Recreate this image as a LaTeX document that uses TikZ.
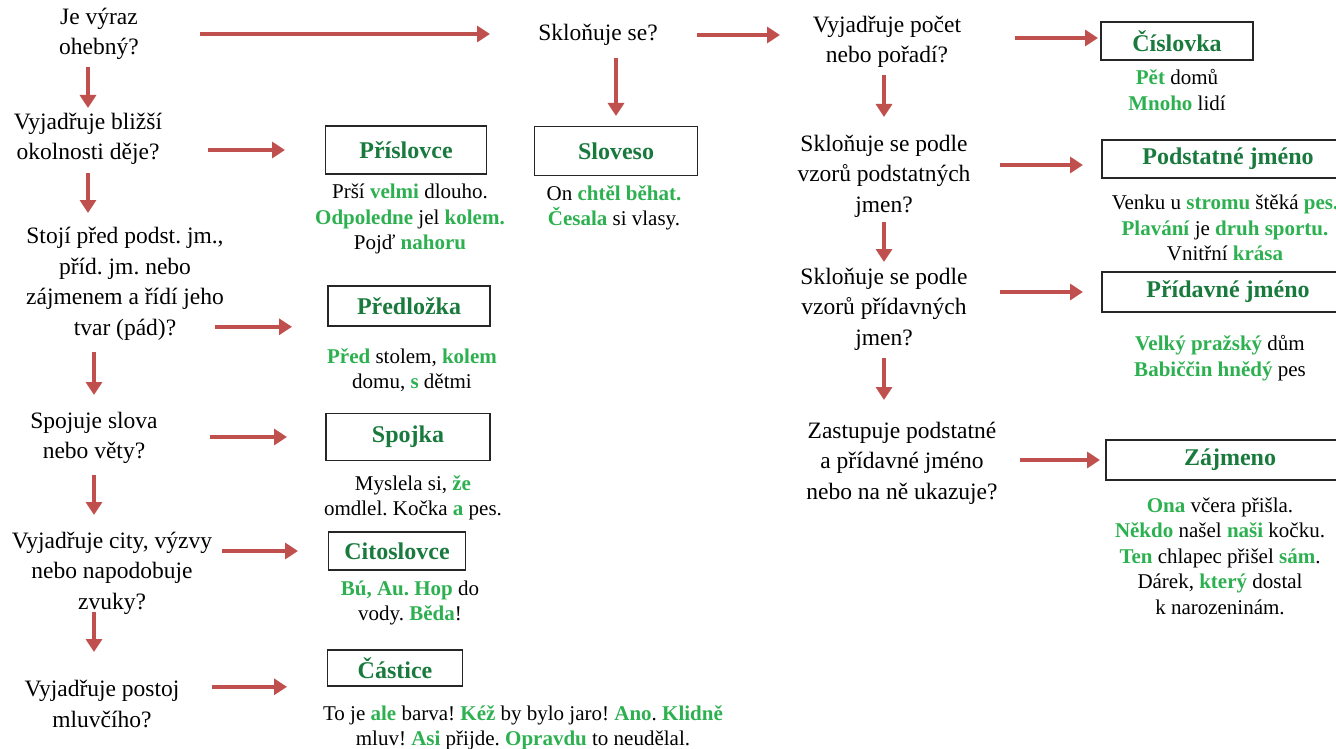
\documentclass[tikz,border=0pt]{standalone}
\usepackage{fontspec}
\setmainfont{Liberation Serif}
\usetikzlibrary{arrows.meta,calc}
\definecolor{titlegreen}{RGB}{26,122,62}
\definecolor{exgreen}{RGB}{45,176,80}
\definecolor{arrred}{RGB}{192,80,77}
\newcommand{\zel}[1]{\textcolor{exgreen}{\textbf{#1}}}
\frenchspacing
\tikzset{
  q/.style={align=center, inner sep=0pt, font=\fontsize{23.5}{30.5}\selectfont},
  box/.style={draw=black!85, line width=1.6pt, inner sep=0pt, text=titlegreen,
    font=\fontsize{24}{28}\selectfont\bfseries},
  ex/.style={align=center, inner sep=0pt, font=\fontsize{21}{25.5}\selectfont},
  arr/.style={draw=arrred, line width=4pt, -{Triangle[length=13pt,width=16pt]}}
}
\begin{document}
\begin{tikzpicture}[x=1pt,y=-1pt]
  \useasboundingbox (0,0) rectangle (1336,749);

  \node (q1)  [q] at (99,34)   {Je výraz\\ohebný?};
  \node (q2)  [q] at (88,139)  {Vyjadřuje bližší\\okolnosti děje?};
  \node (q3)  [q] at (125,284) {Stojí před podst. jm.,\\příd. jm. nebo\\zájmenem a řídí jeho\\tvar (pád)?};
  \node (q4)  [q] at (94,438)  {Spojuje slova\\nebo věty?};
  \node (q5)  [q] at (112,573) {Vyjadřuje city, výzvy\\nebo napodobuje\\zvuky?};
  \node (q6)  [q] at (102,704) {Vyjadřuje postoj\\mluvčího?};
  \node (q7)  [q] at (598,35)  {Skloňuje se?};
  \node (q8)  [q] at (887,42)  {Vyjadřuje počet\\nebo pořadí?};
  \node (q9)  [q] at (884,176) {Skloňuje se podle\\vzorů podstatných\\jmen?};
  \node (q10) [q] at (884,309) {Skloňuje se podle\\vzorů přídavných\\jmen?};
  \node (q11) [q] at (902,463) {Zastupuje podstatné\\a přídavné jméno\\nebo na ně ukazuje?};

  \node (prisl)   [box, minimum width=161pt, minimum height=48pt] at (406,150)  {Příslovce};
  \node (slov)    [box, minimum width=163pt, minimum height=49pt] at (616,151)  {Sloveso};
  \node (predl)   [box, minimum width=162pt, minimum height=40pt] at (409,306)  {Předložka};
  \node (spojka)  [box, minimum width=164pt, minimum height=47pt] at (408,437)  {Spojka};
  \node (citosl)  [box, minimum width=137pt, minimum height=38pt] at (397,551)  {Citoslovce};
  \node (castice) [box, minimum width=135pt, minimum height=36pt] at (395,668)  {Částice};
  \node (cisl)    [box, minimum width=152pt, minimum height=38pt] at (1177,41)  {Číslovka};
  \node (podst)   [box, minimum width=252pt, minimum height=38pt] at (1228,159) {Podstatné jméno};
  \node (prid)    [box, minimum width=252pt, minimum height=40pt] at (1228,292) {Přídavné jméno};
  \node (zajm)    [box, minimum width=248pt, minimum height=40pt] at (1230,460) {Zájmeno};

  \node (prislex)   [ex] at (410,219)  {Prší \zel{velmi} dlouho.\\\zel{Odpoledne} jel \zel{kolem.}\\Pojď \zel{nahoru}};
  \node (predlex)   [ex] at (412,370)  {\zel{Před} stolem, \zel{kolem}\\domu, \zel{s} dětmi};
  \node (spojkaex)  [ex] at (413,498)  {Myslela si, \zel{že}\\omdlel. Kočka \zel{a} pes.};
  \node (citoslex)  [ex] at (410,603)  {\zel{Bú, Au. Hop} do\\vody. \zel{Běda}!};
  \node (casticeex) [ex] at (523,728)  {To je \zel{ale} barva! \zel{Kéž} by bylo jaro! \zel{Ano}. \zel{Klidně}\\mluv! \zel{Asi} přijde. \zel{Opravdu} to neudělal.};
  \node (slovex)    [ex] at (614,208)  {On \zel{chtěl běhat.}\\\zel{Česala} si vlasy.};
  \node (cislex)    [ex] at (1177,90)  {\zel{Pět} domů\\\zel{Mnoho} lidí};
  \node (podstex)   [ex] at (1225,228) {Venku u \zel{stromu} štěká \zel{pes.}\\\zel{Plavání} je \zel{druh sportu.}\\Vnitřní \zel{krása}};
  \node (pridex)    [ex] at (1220,358) {\zel{Velký pražský} dům\\\zel{Babiččin hnědý} pes};
  \node (zajmex)    [ex] at (1220,556) {\zel{Ona} včera přišla.\\\zel{Někdo} našel \zel{naši} kočku.\\\zel{Ten} chlapec přišel \zel{sám}.\\Dárek, \zel{který} dostal\\k narozeninám.};

  \draw [arr, shorten <=101pt, shorten >=108pt] (q1.center) -- (q1.center -| q7.center);
  \draw [arr, shorten <=99pt, shorten >=107pt] (q7.center) -- (q7.center -| q8.center);
  \draw [arr, shorten <=128pt, shorten >=79pt] ($(cisl.center -| q8.center)+(0,-3)$) -- ($(cisl.center)+(0,-3)$);
  \draw [arr, shorten <=33pt, shorten >=31pt] (q2.center |- q1.center) -- (q2.center);
  \draw [arr, shorten <=34pt, shorten >=71pt] (q2.center) -- (q2.center |- q3.center);
  \draw [arr, shorten <=68pt, shorten >=43pt] (q4.center |- q3.center) -- (q4.center);
  \draw [arr, shorten <=37pt, shorten >=58pt] (q4.center) -- (q4.center |- q5.center);
  \draw [arr, shorten <=39pt, shorten >=52pt] (q4.center |- q5.center) -- (q4.center |- q6.center);
  \draw [arr, shorten <=120pt, shorten >=121pt] (q2.center |- prisl.center) -- (prisl.center);
  \draw [arr, shorten <=90pt, shorten >=117pt] (q3.center |- predl.south) -- (predl.south);
  \draw [arr, shorten <=116pt, shorten >=121pt] (q4.center |- spojka.center) -- (spojka.center);
  \draw [arr, shorten <=110pt, shorten >=99pt] (q5.center |- citosl.center) -- (citosl.center);
  \draw [arr, shorten <=110pt, shorten >=108pt] (q6.center |- castice.south) -- (castice.south);
  \draw [arr, shorten <=23pt, shorten >=35pt] (slov.center |- q7.center) -- (slov.center);
  \draw [arr, shorten <=33pt, shorten >=59pt] (q9.center |- q8.center) -- (q9.center);
  \draw [arr, shorten <=46pt, shorten >=47pt] (q9.center) -- (q10.center);
  \draw [arr, shorten <=49pt, shorten >=63pt] (q10.center) -- (q10.center |- q11.center);
  \draw [arr, shorten <=116pt, shorten >=145pt] ($(q9.center |- podst.center)+(0,6)$) -- ($(podst.center)+(0,6)$);
  \draw [arr, shorten <=116pt, shorten >=145pt] (q10.center |- prid.center) -- (prid.center);
  \draw [arr, shorten <=118pt, shorten >=130pt] (q11.center |- zajm.center) -- (zajm.center);
\end{tikzpicture}
\end{document}
